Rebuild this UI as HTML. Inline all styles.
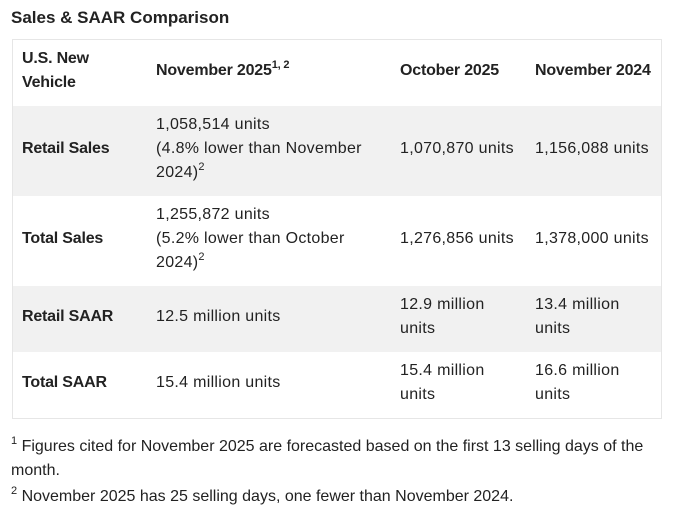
<!DOCTYPE html>
<html><head><meta charset="utf-8"><style>
*{margin:0;padding:0;box-sizing:border-box}
body{width:675px;height:517px;background:#fff;font-family:"Liberation Sans",Arial,sans-serif;color:#222;position:relative;overflow:hidden;font-size:16px;line-height:24px}
.t{position:absolute;white-space:nowrap;letter-spacing:0.3px}
.b{font-weight:bold;letter-spacing:-0.2px}
.f{letter-spacing:0}
sup{font-size:11px;line-height:0;vertical-align:7px}
.row{position:absolute;left:13px;width:648px}
</style></head><body>
<div class="t b" style="left:11px;top:6px;font-size:17px;letter-spacing:0">Sales &amp; SAAR Comparison</div>
<div style="position:absolute;left:12px;top:39px;width:650px;height:380px;border:1px solid #e6e6e6"></div>
<div class="row" style="top:106px;height:90px;background:#f1f1f1"></div>
<div class="row" style="top:286px;height:66px;background:#f1f1f1"></div>

<div class="t b" style="left:22px;top:47px">U.S. New<br>Vehicle</div>
<div class="t b" style="left:156px;top:59px">November 2025<sup>1, 2</sup></div>
<div class="t b" style="left:400px;top:59px">October 2025</div>
<div class="t b" style="left:535px;top:59px">November 2024</div>

<div class="t b" style="left:22px;top:137px">Retail Sales</div>
<div class="t" style="left:156px;top:113px">1,058,514 units<br>(4.8% lower than November<br>2024)<sup>2</sup></div>
<div class="t" style="left:400px;top:137px">1,070,870 units</div>
<div class="t" style="left:535px;top:137px">1,156,088 units</div>

<div class="t b" style="left:22px;top:227px">Total Sales</div>
<div class="t" style="left:156px;top:203px">1,255,872 units<br>(5.2% lower than October<br>2024)<sup>2</sup></div>
<div class="t" style="left:400px;top:227px">1,276,856 units</div>
<div class="t" style="left:535px;top:227px">1,378,000 units</div>

<div class="t b" style="left:22px;top:305px">Retail SAAR</div>
<div class="t" style="left:156px;top:305px">12.5 million units</div>
<div class="t" style="left:400px;top:293px">12.9 million<br>units</div>
<div class="t" style="left:535px;top:293px">13.4 million<br>units</div>

<div class="t b" style="left:22px;top:371px">Total SAAR</div>
<div class="t" style="left:156px;top:371px">15.4 million units</div>
<div class="t" style="left:400px;top:359px">15.4 million<br>units</div>
<div class="t" style="left:535px;top:359px">16.6 million<br>units</div>

<div class="t f" style="left:11px;top:435px"><sup>1</sup> Figures cited for November 2025 are forecasted based on the first 13 selling days of the<br>month.</div>
<div class="t f" style="left:11px;top:485px"><sup>2</sup> November 2025 has 25 selling days, one fewer than November 2024.</div>
</body></html>
